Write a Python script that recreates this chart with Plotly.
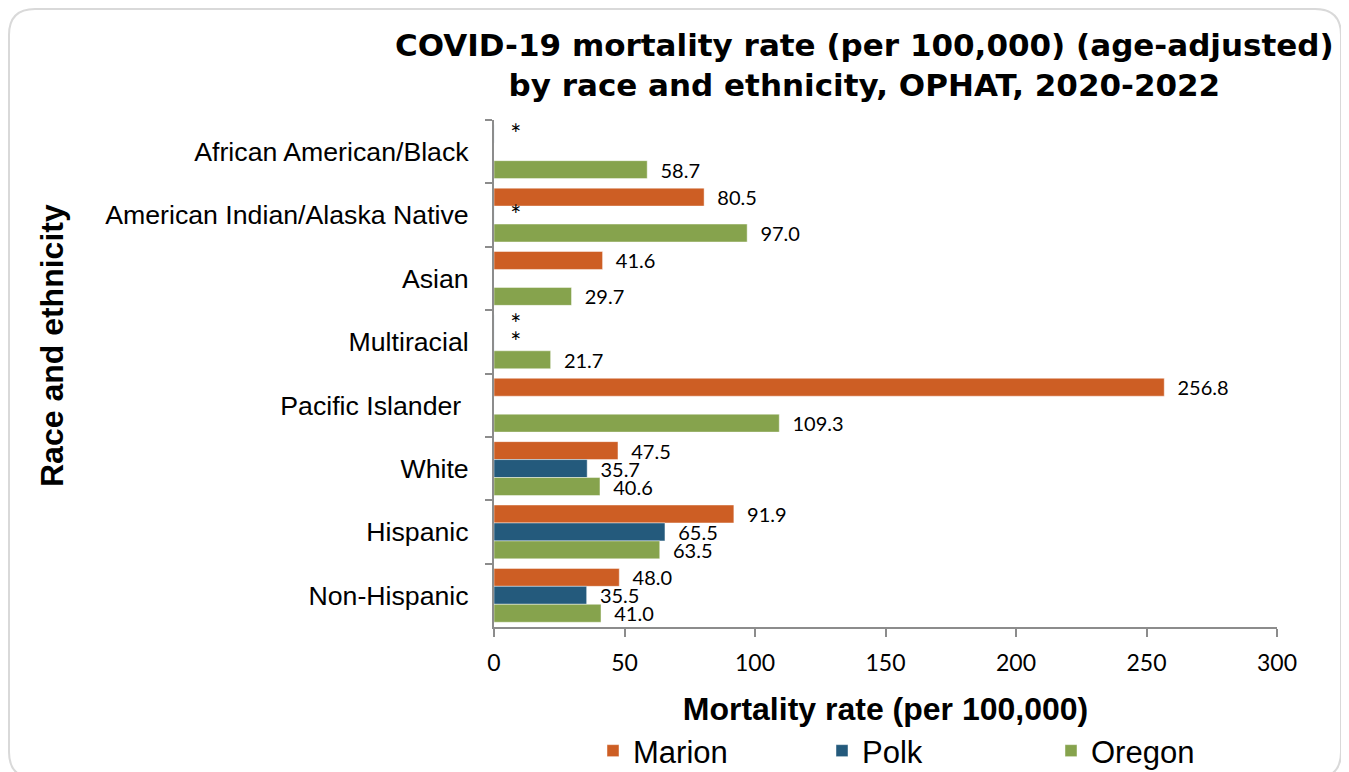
import plotly.graph_objects as go

# ---------------- data ----------------
categories = [
    "African American/Black",
    "American Indian/Alaska Native",
    "Asian",
    "Multiracial",
    "Pacific Islander\u00a0",
    "White",
    "Hispanic",
    "Non-Hispanic",
]
marion = [None, 80.5, 41.6, None, 256.8, 47.5, 91.9, 48.0]
polk = [None, None, None, None, None, 35.7, 65.5, 35.5]
oregon = [58.7, 97.0, 29.7, 21.7, 109.3, 40.6, 63.5, 41.0]
# "*" = suppressed value shown in the source chart
marion_suppressed = [True, False, False, True, False, False, False, False]
polk_suppressed = [False, True, False, True, False, False, False, False]
oregon_suppressed = [False] * 8
series_names = ["Marion", "Polk", "Oregon"]
x_ticks = [0, 50, 100, 150, 200, 250, 300]

# ---------------- style ----------------
colors = {"Marion": "#CD5E24", "Polk": "#245A7C", "Oregon": "#86A34D"}
OFF = 8                      # page body margin
W, H = 1349 - OFF, 772 - OFF
# plot area in screen pixels
L, R, T, B = 494, 1277, 120, 627
LABEL_FONT = "Lato"
ARIAL = "Liberation Sans"
PAD = "\u00a0\u00a0"

fig = go.Figure()
values = {"Marion": marion, "Polk": polk, "Oregon": oregon}
suppressed = {"Marion": marion_suppressed, "Polk": polk_suppressed, "Oregon": oregon_suppressed}

for name in series_names:
    fig.add_trace(go.Bar(
        name=name, y=categories, x=values[name], orientation="h",
        offsetgroup=name, alignmentgroup="all",
        marker=dict(color=colors[name], line=dict(color="rgba(255,255,255,0.45)", width=1)),
        texttemplate=PAD + "%{x:.1f}", textposition="outside",
        textfont=dict(family=LABEL_FONT, size=20, color="#000000"),
        constraintext="none", cliponaxis=False,
    ))
for name in series_names:
    if not any(suppressed[name]):
        continue
    fig.add_trace(go.Bar(
        name=name + " (suppressed)", y=categories,
        x=[0 if s else None for s in suppressed[name]], orientation="h",
        offsetgroup=name, alignmentgroup="all", showlegend=False,
        marker=dict(color="rgba(0,0,0,0)"),
        text=["*" if s else "" for s in suppressed[name]],
        texttemplate=PAD + "%{text}", textposition="outside",
        textfont=dict(family=LABEL_FONT, size=26, color="#000000"),
        constraintext="none", cliponaxis=False, hoverinfo="skip",
    ))

def px_x(p):
    return (p - L) / (R - L)

def px_y(p):
    return (B - p) / (B - T)

# rounded outer border (screen pixels)
x0, x1, y0, y1, rad = 9, 1341, 9, 778, 26
path = (
    f"M {px_x(x0 + rad)},{px_y(y0)} L {px_x(x1 - rad)},{px_y(y0)} "
    f"Q {px_x(x1)},{px_y(y0)} {px_x(x1)},{px_y(y0 + rad)} "
    f"L {px_x(x1)},{px_y(y1 - rad)} Q {px_x(x1)},{px_y(y1)} {px_x(x1 - rad)},{px_y(y1)} "
    f"L {px_x(x0 + rad)},{px_y(y1)} Q {px_x(x0)},{px_y(y1)} {px_x(x0)},{px_y(y1 - rad)} "
    f"L {px_x(x0)},{px_y(y0 + rad)} Q {px_x(x0)},{px_y(y0)} {px_x(x0 + rad)},{px_y(y0)} Z"
)

fig.update_layout(
    width=W, height=H,
    margin=dict(l=L - OFF, r=(1349 - OFF) - (R - OFF), t=T - OFF, b=H - (B - OFF),
                pad=0, autoexpand=False),
    paper_bgcolor="white", plot_bgcolor="white",
    barmode="group", bargap=0.15, bargroupgap=0,
    xaxis=dict(
        range=[0, 300], tickvals=x_ticks, ticks="outside", ticklen=8, tickwidth=2,
        tickcolor="#8C8C8C", showline=True, linecolor="#8C8C8C", linewidth=2,
        showgrid=False, zeroline=False, ticklabelstandoff=6,
        tickfont=dict(family=LABEL_FONT, size=23, color="#000000"),
        title=dict(text="Mortality rate (per 100,000)",
                   font=dict(family=ARIAL, size=32, color="#000000", weight="bold"),
                   standoff=23),
    ),
    yaxis=dict(
        autorange="reversed", ticks="outside", tickson="boundaries", ticklen=7,
        tickwidth=2, tickcolor="#8C8C8C", showline=True, linecolor="#8C8C8C",
        linewidth=2, showgrid=False, ticklabelstandoff=18,
        tickfont=dict(family=ARIAL, size=26.7, color="#000000"),
    ),
    legend=dict(
        orientation="h", x=px_x(593), xanchor="left", y=px_y(778), yanchor="bottom",
        font=dict(family=ARIAL, size=31, color="#000000"),
        entrywidth=184, itemwidth=30, bgcolor="rgba(0,0,0,0)",
    ),
    annotations=[
        dict(
            text="COVID-19 mortality rate (per 100,000) (age-adjusted)<br>by race and ethnicity, OPHAT, 2020-2022",
            showarrow=False, xref="paper", yref="paper",
            x=px_x(864), y=px_y(65), xanchor="center", yanchor="middle",
            font=dict(family="DejaVu Sans", size=31, color="#000000", weight="bold"),
        ),
        dict(
            text="Race and ethnicity", textangle=-90, showarrow=False,
            xref="paper", yref="paper", x=px_x(52), y=px_y(346),
            xanchor="center", yanchor="middle",
            font=dict(family=ARIAL, size=32, color="#000000", weight="bold"),
        ),
    ],
    shapes=[dict(type="path", path=path, xref="paper", yref="paper",
                 line=dict(color="#D9D9D9", width=2), layer="below")],
    showlegend=True,
)

fig.write_html("out.html")
